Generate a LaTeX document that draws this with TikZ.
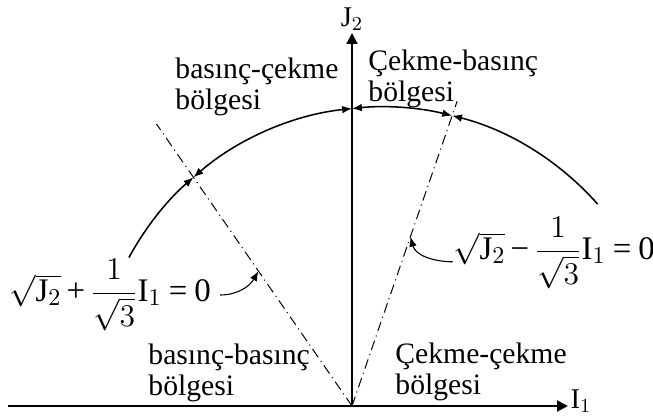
\documentclass[tikz,border=0pt]{standalone}
\usepackage{amsmath}
\usepackage{fontspec}
\setmainfont{Liberation Serif}
\usetikzlibrary{arrows.meta, positioning, calc}

\newcommand{\yplus}{\mkern3mu\text{+}\mkern3mu}
\newcommand{\yminus}{\mkern3mu\text{−}\mkern3mu}
\newcommand{\yeq}{\mkern4mu\text{=}\mkern4mu}

\begin{document}
\begin{tikzpicture}[
    x=0.016cm, y=0.016cm,
    axis/.style={-{Triangle[length=5pt, width=5pt]}, line width=0.9pt},
    limit/.style={line width=0.45pt, dash pattern=on 4.5pt off 2pt on 0.5pt off 2pt},
    yieldarc/.style={line width=0.7pt},
    tip/.style={-{Latex[length=4.5pt, width=3.5pt]}},
    bothtips/.style={{Latex[length=4.5pt, width=3.5pt]}-{Latex[length=4.5pt, width=3.5pt]}},
    region/.style={align=left, anchor=west, inner sep=0pt, font=\fontsize{13.5}{14}\selectfont},
    axlabel/.style={inner sep=1pt, font=\fontsize{13}{15}\selectfont},
    eqn/.style={inner sep=0pt, font=\fontsize{15}{18}\selectfont},
    pointer/.style={-{Latex[length=4.5pt, width=3.5pt]}, line width=0.5pt},
]
\useasboundingbox (-352,-12) rectangle (301,406);

\coordinate (O) at (0,0);
\coordinate (C) at (30,11);
\coordinate (xstart) at (-344,0);
\coordinate (xtip) at (216,0);
\coordinate (ytip) at (0,373);

\coordinate (a0)  at ($(C)+(151.5:288)$);
\coordinate (lc)  at ($(C)+(130.9:288)$);
\coordinate (top) at ($(C)+(95.98:288)$);
\coordinate (rc)  at ($(C)+(75.9:288)$);
\coordinate (a1)  at ($(C)+(41.5:288)$);

\coordinate (lend) at ($(O)!1.233!(lc)$);
\coordinate (rend) at ($(O)!1.05!(rc)$);
\coordinate (lhit) at ($(O)!0.59!(lc)$);
\coordinate (rhit) at ($(O)!0.583!(rc)$);

\draw[axis] (xstart) -- (xtip);
\draw[axis] (O) -- (ytip);
\node[axlabel, right=0pt of xtip, yshift=2pt] (i1) {I$_1$};
\node[axlabel, above=0pt of ytip] (j2) {J$_2$};

\draw[limit] (O) -- (lend);
\draw[limit] (O) -- (rend);

\draw[yieldarc, tip] (a0) arc[start angle=151.5, end angle=130.9, radius=288];
\draw[yieldarc, bothtips] (lc) arc[start angle=130.9, end angle=95.98, radius=288];
\draw[yieldarc, bothtips] (top) arc[start angle=95.98, end angle=75.9, radius=288];
\draw[yieldarc, tip] (a1) arc[start angle=41.5, end angle=75.9, radius=288];

\node[region] (bc) at (-177,319) {basınç-çekme\\bölgesi};
\node[region] (cb) at (16,327) {Çekme-basınç\\bölgesi};
\node[region] (bb) at (-204,33) {basınç-basınç\\bölgesi};
\node[region] (cc) at (43,34) {Çekme-çekme\\bölgesi};

\node[eqn] (eqplus) at (-242,111) {$\sqrt{\mathrm{J}_2}\yplus\dfrac{1}{\sqrt{3}}\mathrm{I}_1\yeq\mathrm{0}$};
\node[eqn] (eqminus) at (202,153) {$\sqrt{\mathrm{J}_2}\yminus\dfrac{1}{\sqrt{3}}\mathrm{I}_1\yeq\mathrm{0}$};

\draw[pointer] ([xshift=4pt]eqplus.east) to[out=0, in=-120] (lhit);
\draw[pointer] ([yshift=-4pt]eqminus.west) to[out=180, in=-75] (rhit);

\end{tikzpicture}
\end{document}
